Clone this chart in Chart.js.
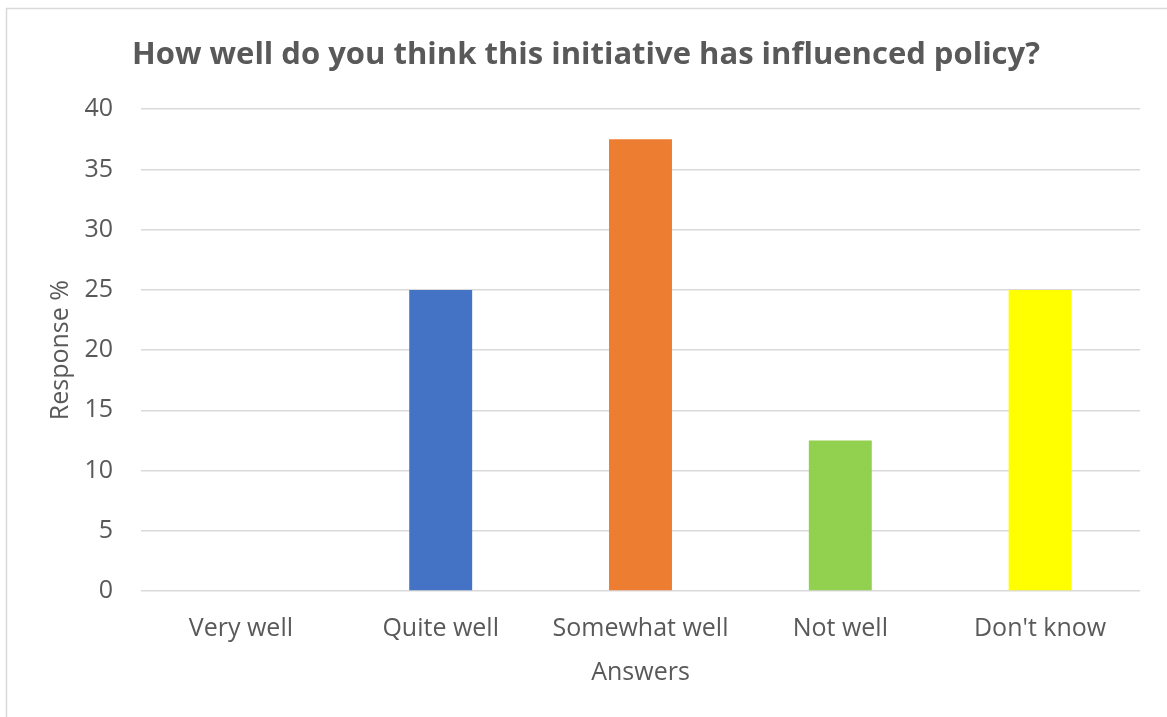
<!DOCTYPE html>
<html>
<head>
<meta charset="utf-8">
<title>How well do you think this initiative has influenced policy?</title>
<script src="https://cdn.jsdelivr.net/npm/chart.js@4/dist/chart.umd.min.js"></script>
<style>
  html, body { margin: 0; padding: 0; background: #fff; }
  #wrap { position: relative; width: 1167px; height: 717px; }
</style>
</head>
<body>
<div id="wrap"><canvas id="answersChart"></canvas></div>
<script>
// values
const answerLabels = ["Very well", "Quite well", "Somewhat well", "Not well", "Don't know"];
const responsePct = [0, 25, 37.5, 12.5, 25];
const barColours = ["#4472C4", "#4472C4", "#ED7D31", "#92D050", "#FFFF00"];
const yTickMin = 0;
const yTickMax = 40;
const yTickStep = 5;

const TEXT_GREY = "#595959";
const GRID_GREY = "#d9d9d9";
const FONT = "'Open Sans', 'Noto Sans', sans-serif";

// light frame round the chart, like the spreadsheet chart box
const frame = {
  id: "frame",
  beforeDraw(chart) {
    const ctx = chart.ctx;
    ctx.save();
    ctx.strokeStyle = GRID_GREY;
    ctx.lineWidth = 1.5;
    ctx.strokeRect(6.5, 8.5, 1400, 1000);
    ctx.restore();
  },
};

Chart.defaults.font.family = FONT;
Chart.defaults.color = TEXT_GREY;

const answersChart = new Chart(document.getElementById("answersChart"), {
  type: "bar",
  data: {
    labels: answerLabels,
    datasets: [
      {
        label: "Response %",
        data: responsePct,
        backgroundColor: barColours,
        borderWidth: 0,
        categoryPercentage: 1,
        barPercentage: 0.315,
      },
    ],
  },
  options: {
    responsive: true,
    maintainAspectRatio: false,
    animation: false,
    layout: {
      padding: { left: 32, right: 27, top: 37, bottom: 26 },
    },
    plugins: {
      legend: { display: false },
      tooltip: { enabled: false },
      title: {
        display: true,
        text: "How well do you think this initiative has influenced policy?",
        color: TEXT_GREY,
        font: { size: 31, weight: "bold", family: FONT },
        padding: { top: 0, bottom: 35 },
      },
    },
    scales: {
      x: {
        grid: { display: false, drawTicks: false },
        border: { display: false },
        ticks: {
          color: TEXT_GREY,
          font: { size: 25 },
          padding: 23,
          maxRotation: 0,
        },
        title: {
          display: true,
          text: "Answers",
          color: TEXT_GREY,
          font: { size: 25 },
          padding: { top: 0, bottom: 3 },
        },
        afterFit(scale) {
          scale.height = 100;
        },
      },
      y: {
        min: yTickMin,
        max: yTickMax,
        grid: { color: GRID_GREY, lineWidth: 1.5, drawTicks: false },
        border: { display: false },
        ticks: {
          stepSize: yTickStep,
          color: TEXT_GREY,
          font: { size: 25 },
          padding: 28,
        },
        title: {
          display: true,
          text: "Response %",
          color: TEXT_GREY,
          font: { size: 25 },
          padding: { top: 14, bottom: 0 },
        },
        afterFit(scale) {
          scale.width = 109;
        },
      },
    },
  },
  plugins: [frame],
});
</script>
</body>
</html>
